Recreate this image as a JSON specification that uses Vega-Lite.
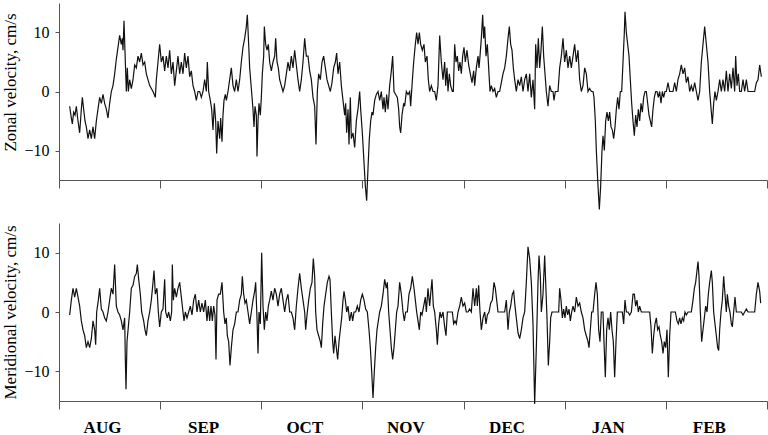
{
"$schema": "https://vega.github.io/schema/vega-lite/v6.json",
"background": "white",
"padding": {"left": 0, "top": 3, "right": 2, "bottom": 0},
"spacing": 43,
"bounds": "flush",
"config": {
  "view": {"stroke": null},
  "font": "Liberation Serif",
  "axis": {"domainColor": "#555", "tickColor": "#555", "labelFont": "Liberation Serif", "labelFontSize": 16, "labelColor": "#000", "titleFont": "Liberation Serif", "titleFontSize": 17, "titleFontWeight": "normal", "titleColor": "#000", "grid": false, "domainWidth": 1, "tickWidth": 1}
},
"datasets": {
"zonal": [
{"d":4.0,"v":-2.5},{"d":4.5,"v":-4.5},{"d":4.8,"v":-5.5},{"d":5.2,"v":-3.5},{"d":5.6,"v":-4},{"d":6.0,"v":-2.5},{"d":6.5,"v":-5},{"d":7.0,"v":-7},{"d":7.5,"v":-3},{"d":7.8,"v":-1},{"d":8.2,"v":-3},{"d":8.6,"v":-5},{"d":9.0,"v":-6},{"d":9.5,"v":-8},{"d":10.0,"v":-6.5},{"d":10.5,"v":-8},{"d":11.0,"v":-6},{"d":11.5,"v":-8},{"d":12.0,"v":-5},{"d":12.5,"v":-3},{"d":13.0,"v":-1},{"d":13.5,"v":-2},{"d":14.0,"v":-0.5},{"d":14.5,"v":-2},{"d":15.0,"v":-3},{"d":15.5,"v":-4.5},{"d":16.0,"v":-2},{"d":16.5,"v":0},{"d":17.0,"v":1},{"d":17.5,"v":3},{"d":18.0,"v":5.5},{"d":18.5,"v":7.5},{"d":19.0,"v":9.5},{"d":19.5,"v":8},{"d":19.8,"v":9},{"d":20.0,"v":7},{"d":20.3,"v":12},{"d":20.7,"v":5},{"d":21.0,"v":0},{"d":21.3,"v":4},{"d":21.6,"v":0},{"d":22.0,"v":2},{"d":22.5,"v":0.5},{"d":23.0,"v":2},{"d":23.5,"v":4.5},{"d":24.0,"v":4},{"d":24.5,"v":6},{"d":25.0,"v":5},{"d":25.5,"v":6.5},{"d":26.0,"v":4.5},{"d":26.5,"v":5},{"d":27.0,"v":3},{"d":28.0,"v":1},{"d":29.0,"v":0},{"d":29.7,"v":-1},{"d":30.0,"v":2},{"d":30.5,"v":5},{"d":31.0,"v":8},{"d":31.5,"v":5},{"d":32.0,"v":6},{"d":32.5,"v":3.5},{"d":33.0,"v":6},{"d":33.5,"v":4},{"d":34.0,"v":7},{"d":34.5,"v":3},{"d":35.0,"v":5},{"d":35.5,"v":1},{"d":36.0,"v":3.5},{"d":36.5,"v":6},{"d":37.0,"v":3},{"d":37.5,"v":5},{"d":38.0,"v":3},{"d":38.5,"v":6.5},{"d":39.0,"v":4},{"d":39.5,"v":6},{"d":40.0,"v":2.5},{"d":40.5,"v":3.5},{"d":41.0,"v":1},{"d":41.5,"v":0},{"d":42.0,"v":-1.5},{"d":42.5,"v":0},{"d":43.0,"v":0},{"d":43.5,"v":-1},{"d":44.0,"v":0},{"d":44.5,"v":2},{"d":45.0,"v":0},{"d":45.3,"v":5},{"d":45.7,"v":0},{"d":46.2,"v":-1.5},{"d":46.6,"v":-3},{"d":47.0,"v":-6.5},{"d":47.4,"v":-2},{"d":47.8,"v":-5},{"d":48.1,"v":-10.5},{"d":48.5,"v":-5},{"d":49.0,"v":-8},{"d":49.3,"v":-4.5},{"d":49.7,"v":-8.5},{"d":50.0,"v":-4},{"d":50.3,"v":-1.5},{"d":50.7,"v":-0.5},{"d":51.0,"v":-1.5},{"d":51.5,"v":0},{"d":52.0,"v":2},{"d":52.5,"v":4},{"d":53.0,"v":1},{"d":53.5,"v":0},{"d":54.0,"v":2},{"d":54.5,"v":0},{"d":55.0,"v":2},{"d":55.5,"v":5},{"d":56.0,"v":7.5},{"d":56.5,"v":9},{"d":57.0,"v":11},{"d":57.3,"v":13},{"d":57.7,"v":8},{"d":58.0,"v":4},{"d":58.5,"v":0.5},{"d":59.0,"v":-3},{"d":59.3,"v":-6},{"d":59.6,"v":-2.5},{"d":60.0,"v":-4},{"d":60.2,"v":-11},{"d":60.5,"v":-5},{"d":60.8,"v":-2},{"d":61.2,"v":-4},{"d":61.5,"v":-1},{"d":61.8,"v":3},{"d":62.2,"v":6},{"d":62.4,"v":11},{"d":62.8,"v":8},{"d":63.2,"v":7},{"d":63.6,"v":8},{"d":64.0,"v":5},{"d":64.5,"v":3.5},{"d":65.0,"v":5},{"d":65.5,"v":6},{"d":65.8,"v":9},{"d":66.2,"v":5},{"d":66.6,"v":4},{"d":67.0,"v":2},{"d":67.5,"v":1},{"d":68.0,"v":0},{"d":68.5,"v":1},{"d":69.0,"v":3},{"d":69.5,"v":5},{"d":70.0,"v":3.5},
{"d":70.5,"v":6},{"d":71.0,"v":4},{"d":71.5,"v":7},{"d":72.0,"v":4.5},{"d":72.5,"v":2},{"d":73.0,"v":0},{"d":73.5,"v":2},{"d":74.0,"v":5},{"d":74.5,"v":9},{"d":75.0,"v":6},{"d":75.5,"v":6},{"d":76.0,"v":3.5},{"d":76.5,"v":2},{"d":77.0,"v":-1},{"d":77.5,"v":-2.5},{"d":77.9,"v":-9},{"d":78.3,"v":0},{"d":78.7,"v":3},{"d":79.2,"v":2},{"d":79.7,"v":5},{"d":80.2,"v":6},{"d":80.7,"v":4},{"d":81.2,"v":2},{"d":81.7,"v":1},{"d":82.2,"v":0},{"d":82.7,"v":1.5},{"d":83.2,"v":4},{"d":83.7,"v":5},{"d":84.1,"v":6.5},{"d":84.5,"v":3},{"d":85.0,"v":5},{"d":85.5,"v":1},{"d":86.0,"v":-1.5},{"d":86.5,"v":-4},{"d":86.8,"v":-2},{"d":87.1,"v":-7},{"d":87.5,"v":-3},{"d":87.8,"v":-9},{"d":88.2,"v":-1},{"d":88.5,"v":-8},{"d":89.0,"v":-7},{"d":89.5,"v":-9.5},{"d":90.0,"v":-5},{"d":90.5,"v":-3},{"d":91.0,"v":0},{"d":91.3,"v":-3},{"d":91.8,"v":-7},{"d":92.3,"v":-12},{"d":92.7,"v":-16},{"d":93.1,"v":-18.5},{"d":93.5,"v":-13},{"d":93.9,"v":-8},{"d":94.3,"v":-5},{"d":94.7,"v":-3.5},{"d":95.0,"v":-4},{"d":95.5,"v":-1.5},{"d":96.0,"v":-0.5},{"d":96.5,"v":0},{"d":97.0,"v":-1.5},{"d":97.5,"v":0},{"d":98.0,"v":-3},{"d":98.3,"v":-1},{"d":98.7,"v":-3.5},{"d":99.1,"v":-0.5},{"d":99.5,"v":-3},{"d":100.0,"v":1},{"d":100.5,"v":3.5},{"d":100.9,"v":6},{"d":101.3,"v":0},{"d":101.8,"v":-0.5},{"d":102.3,"v":-1},{"d":102.7,"v":-3},{"d":103.0,"v":-6},{"d":103.3,"v":-7},{"d":103.7,"v":-4},{"d":104.2,"v":-2},{"d":104.5,"v":-2.5},{"d":105.0,"v":0},{"d":105.5,"v":-0.5},{"d":106.0,"v":0},{"d":106.3,"v":-2.5},{"d":106.7,"v":1},{"d":107.2,"v":5},{"d":107.7,"v":8},{"d":108.1,"v":10},{"d":108.5,"v":8},{"d":108.9,"v":10},{"d":109.3,"v":8},{"d":109.8,"v":7},{"d":110.3,"v":8},{"d":110.7,"v":5},{"d":111.2,"v":6},{"d":111.6,"v":2},{"d":112.0,"v":0},{"d":112.5,"v":1},{"d":113.0,"v":0},{"d":113.5,"v":0},{"d":114.0,"v":-1.5},{"d":114.5,"v":1},{"d":115.0,"v":9.5},{"d":115.5,"v":5},{"d":116.0,"v":2},{"d":116.5,"v":5},{"d":116.8,"v":1},{"d":117.2,"v":4},{"d":117.5,"v":0},{"d":117.9,"v":3},{"d":118.3,"v":1},{"d":118.8,"v":0},{"d":119.1,"v":0},{"d":119.5,"v":8},{"d":119.9,"v":5},{"d":120.3,"v":6},{"d":120.7,"v":3.5},{"d":121.1,"v":5},{"d":121.5,"v":3},{"d":121.9,"v":6},{"d":122.3,"v":7.5},{"d":122.7,"v":5},{"d":123.2,"v":7},{"d":123.7,"v":4.5},{"d":124.2,"v":3},{"d":124.7,"v":1.5},{"d":125.2,"v":3.5},{"d":125.5,"v":1},{"d":126.0,"v":4},{"d":126.5,"v":6},{"d":126.8,"v":4},{"d":127.1,"v":6},{"d":127.5,"v":9},{"d":127.9,"v":13},{"d":128.2,"v":9},{"d":128.5,"v":11},{"d":128.9,"v":6},{"d":129.3,"v":8},{"d":129.7,"v":4},{"d":130.1,"v":0},{"d":130.5,"v":1},{"d":131.0,"v":0},{"d":131.5,"v":0.5},{"d":132.0,"v":-1},{"d":132.5,"v":0},{"d":133.0,"v":0},{"d":133.5,"v":1.5},{"d":134.0,"v":3},{"d":134.5,"v":4},{"d":135.0,"v":6},{"d":135.5,"v":9},{"d":135.9,"v":11},{"d":136.3,"v":8},{"d":136.7,"v":7},{"d":137.1,"v":4},{"d":137.5,"v":2},{"d":138.0,"v":0},{"d":138.5,"v":2},{"d":139.0,"v":1},{"d":139.5,"v":2.5},{"d":140.0,"v":0},{"d":140.5,"v":2},
{"d":141.0,"v":3},{"d":141.5,"v":0},{"d":142.0,"v":3},{"d":142.5,"v":-1},{"d":143.0,"v":2},{"d":143.5,"v":-3},{"d":143.8,"v":8},{"d":144.2,"v":4},{"d":144.6,"v":9},{"d":145.0,"v":4},{"d":145.4,"v":7},{"d":145.8,"v":11},{"d":146.2,"v":6},{"d":146.6,"v":3},{"d":147.0,"v":0},{"d":147.5,"v":-2.5},{"d":148.0,"v":1},{"d":148.5,"v":0},{"d":149.0,"v":0},{"d":149.3,"v":-1.5},{"d":149.7,"v":0},{"d":150.2,"v":0},{"d":150.5,"v":0},{"d":151.0,"v":4},{"d":151.5,"v":6},{"d":152.0,"v":9},{"d":152.5,"v":5},{"d":153.0,"v":7},{"d":153.5,"v":4},{"d":154.0,"v":6},{"d":154.5,"v":4},{"d":155.0,"v":6},{"d":155.5,"v":8},{"d":156.0,"v":5},{"d":156.5,"v":7},{"d":157.0,"v":2},{"d":157.5,"v":0},{"d":158.0,"v":1},{"d":158.5,"v":4},{"d":159.0,"v":3},{"d":159.5,"v":0},{"d":160.0,"v":0.5},{"d":160.5,"v":0},{"d":161.0,"v":0},{"d":161.3,"v":-1},{"d":161.7,"v":-5},{"d":162.0,"v":-10},{"d":162.5,"v":-16},{"d":162.9,"v":-20},{"d":163.3,"v":-16},{"d":163.7,"v":-10},{"d":164.0,"v":-7.5},{"d":164.4,"v":-10},{"d":164.8,"v":-5},{"d":165.2,"v":-3.5},{"d":165.6,"v":-5},{"d":166.0,"v":-3.5},{"d":166.4,"v":-6},{"d":166.8,"v":-6.5},{"d":167.2,"v":-8},{"d":167.6,"v":-6},{"d":168.0,"v":-3},{"d":168.4,"v":-1},{"d":168.8,"v":-3},{"d":169.2,"v":0},{"d":169.6,"v":0},{"d":170.0,"v":5},{"d":170.4,"v":10},{"d":170.6,"v":13.5},{"d":171.0,"v":10},{"d":171.4,"v":8},{"d":171.8,"v":6},{"d":172.2,"v":2},{"d":172.6,"v":-2},{"d":173.0,"v":-5},{"d":173.4,"v":-7.5},{"d":173.8,"v":-4},{"d":174.2,"v":-6},{"d":174.6,"v":-3},{"d":175.0,"v":-5},{"d":175.4,"v":-2},{"d":175.8,"v":-3.5},{"d":176.2,"v":-1},{"d":176.6,"v":0},{"d":177.0,"v":0},{"d":177.4,"v":-2},{"d":177.8,"v":-4},{"d":178.2,"v":-5},{"d":178.6,"v":-6},{"d":179.0,"v":-3},{"d":179.4,"v":-1},{"d":179.8,"v":0},{"d":180.2,"v":0},{"d":180.6,"v":-1},{"d":181.0,"v":0},{"d":181.4,"v":-2},{"d":181.8,"v":0},{"d":182.2,"v":-1},{"d":182.6,"v":0},{"d":183.0,"v":0},{"d":183.5,"v":1.5},{"d":184.0,"v":0},{"d":184.5,"v":0},{"d":185.0,"v":0},{"d":185.5,"v":1.5},{"d":186.0,"v":0},{"d":186.5,"v":2},{"d":187.0,"v":3},{"d":187.5,"v":4.5},{"d":188.0,"v":3},{"d":188.5,"v":4},{"d":189.0,"v":1.5},{"d":189.5,"v":2.5},{"d":190.0,"v":0},{"d":190.5,"v":1},{"d":191.0,"v":0},{"d":191.5,"v":1.5},{"d":192.0,"v":0},{"d":192.5,"v":-1.5},{"d":193.0,"v":0},{"d":193.5,"v":5},{"d":194.0,"v":8},{"d":194.5,"v":11},{"d":195.0,"v":8},{"d":195.5,"v":5},{"d":196.0,"v":0},{"d":196.5,"v":-3.5},{"d":196.8,"v":-5.5},{"d":197.2,"v":-2},{"d":197.6,"v":0},{"d":198.0,"v":-1.5},{"d":198.5,"v":0},{"d":199.0,"v":2},{"d":199.5,"v":0},{"d":200.0,"v":2},{"d":200.5,"v":0},{"d":201.0,"v":3.5},{"d":201.5,"v":0},{"d":202.0,"v":3},{"d":202.5,"v":0.5},{"d":203.0,"v":4},{"d":203.5,"v":0},{"d":203.8,"v":6},{"d":204.2,"v":1},{"d":204.6,"v":3},{"d":205.0,"v":0},{"d":205.5,"v":0},{"d":206.0,"v":2},{"d":206.5,"v":0},{"d":207.0,"v":2},{"d":207.5,"v":0},{"d":208.0,"v":0},{"d":209.0,"v":0},{"d":209.5,"v":0},{"d":210.0,"v":1.5},{"d":210.5,"v":2},{"d":211.0,"v":4.5},{"d":211.5,"v":2.5}
],
"merid": [
{"d":4.0,"v":-0.5},{"d":4.5,"v":2},{"d":5.0,"v":4},{"d":5.5,"v":2.5},{"d":6.0,"v":4},{"d":6.5,"v":2.5},{"d":7.0,"v":1},{"d":7.5,"v":-1.5},{"d":8.0,"v":-3},{"d":8.5,"v":-4},{"d":9.0,"v":-6},{"d":9.5,"v":-5},{"d":10.0,"v":-6},{"d":10.5,"v":-4.5},{"d":11.0,"v":-1.5},{"d":11.5,"v":-3},{"d":11.8,"v":-5.5},{"d":12.1,"v":0},{"d":12.6,"v":2},{"d":13.0,"v":4},{"d":13.5,"v":0.5},{"d":14.0,"v":0},{"d":14.5,"v":-1},{"d":15.0,"v":-1.5},{"d":15.5,"v":0},{"d":16.0,"v":2},{"d":16.5,"v":4},{"d":17.0,"v":3},{"d":17.5,"v":8},{"d":18.0,"v":1},{"d":18.5,"v":0},{"d":19.0,"v":-0.5},{"d":19.5,"v":-1.5},{"d":20.0,"v":-3},{"d":20.5,"v":-1},{"d":20.7,"v":-8},{"d":20.9,"v":-13},{"d":21.2,"v":-5},{"d":21.6,"v":-2.5},{"d":22.0,"v":0},{"d":22.5,"v":4},{"d":23.0,"v":4.5},{"d":23.5,"v":6},{"d":24.0,"v":6.5},{"d":24.3,"v":8},{"d":24.8,"v":5},{"d":25.2,"v":3},{"d":25.6,"v":0},{"d":26.2,"v":-1.5},{"d":26.6,"v":-3},{"d":27.0,"v":-4},{"d":27.5,"v":-1.5},{"d":28.0,"v":0},{"d":28.5,"v":2},{"d":29.0,"v":5},{"d":29.3,"v":7},{"d":29.7,"v":3},{"d":30.2,"v":4},{"d":30.6,"v":0},{"d":31.0,"v":-2.5},{"d":31.5,"v":0},{"d":32.0,"v":0.5},{"d":32.5,"v":5.5},{"d":32.8,"v":0},{"d":33.3,"v":-1},{"d":33.7,"v":0},{"d":34.2,"v":-1.5},{"d":34.6,"v":0},{"d":34.8,"v":8},{"d":35.1,"v":2},{"d":35.5,"v":4},{"d":36.0,"v":2.5},{"d":36.5,"v":4},{"d":37.0,"v":5},{"d":37.5,"v":2.5},{"d":38.0,"v":0},{"d":38.3,"v":-1.5},{"d":38.7,"v":0},{"d":39.2,"v":-1},{"d":39.7,"v":0},{"d":40.2,"v":1},{"d":40.7,"v":-0.5},{"d":41.2,"v":2},{"d":41.7,"v":3},{"d":42.2,"v":0},{"d":42.7,"v":2},{"d":43.2,"v":0},{"d":43.7,"v":1.5},{"d":44.2,"v":0},{"d":44.7,"v":2},{"d":45.2,"v":-1.5},{"d":45.6,"v":1},{"d":46.0,"v":-1.5},{"d":46.4,"v":1},{"d":46.8,"v":-1.5},{"d":47.2,"v":1},{"d":47.6,"v":-0.5},{"d":47.9,"v":-8},{"d":48.2,"v":2},{"d":48.7,"v":3},{"d":49.2,"v":3},{"d":49.7,"v":5},{"d":50.2,"v":0},{"d":50.6,"v":-2},{"d":51.0,"v":-1},{"d":51.3,"v":-4},{"d":51.7,"v":-5},{"d":52.1,"v":-9},{"d":52.5,"v":-6},{"d":53.0,"v":-3},{"d":53.5,"v":-2},{"d":54.0,"v":0},{"d":54.5,"v":0},{"d":55.0,"v":2},{"d":55.5,"v":3},{"d":55.8,"v":6},{"d":56.2,"v":3},{"d":56.6,"v":1.5},{"d":57.0,"v":2},{"d":57.5,"v":0},{"d":58.0,"v":-2},{"d":58.5,"v":0},{"d":59.0,"v":2},{"d":59.5,"v":3.5},{"d":59.8,"v":5},{"d":60.2,"v":-1},{"d":60.5,"v":-7},{"d":60.8,"v":0},{"d":61.2,"v":-2},{"d":61.6,"v":10},{"d":62.0,"v":1},{"d":62.4,"v":-3},{"d":62.8,"v":0},{"d":63.2,"v":-1.5},{"d":63.6,"v":1},{"d":64.0,"v":2},{"d":64.5,"v":3.5},{"d":65.0,"v":2},{"d":65.5,"v":4},{"d":66.0,"v":3},{"d":66.5,"v":1},{"d":67.0,"v":3},{"d":67.5,"v":4},{"d":68.0,"v":2},{"d":68.5,"v":0},{"d":69.0,"v":2},{"d":69.5,"v":3},{"d":70.0,"v":0},
{"d":70.5,"v":0},{"d":71.0,"v":-1},{"d":71.5,"v":-3},{"d":72.0,"v":1},{"d":72.5,"v":4},{"d":73.0,"v":6.5},{"d":73.5,"v":4},{"d":74.0,"v":2},{"d":74.5,"v":0},{"d":74.8,"v":-3},{"d":75.2,"v":-0.5},{"d":75.7,"v":2},{"d":76.2,"v":4},{"d":76.7,"v":5},{"d":77.1,"v":9},{"d":77.5,"v":6},{"d":77.8,"v":0},{"d":78.2,"v":-3},{"d":78.7,"v":-4},{"d":79.2,"v":-5},{"d":79.5,"v":-6},{"d":79.9,"v":-2},{"d":80.3,"v":1},{"d":80.8,"v":3},{"d":81.3,"v":5},{"d":81.8,"v":6},{"d":82.1,"v":5.5},{"d":82.5,"v":0},{"d":82.9,"v":-5},{"d":83.2,"v":-7},{"d":83.6,"v":-4},{"d":84.0,"v":-6},{"d":84.4,"v":-8},{"d":84.8,"v":-5},{"d":85.2,"v":-3},{"d":85.6,"v":-1},{"d":86.0,"v":2},{"d":86.3,"v":3.5},{"d":86.7,"v":2},{"d":87.1,"v":0},{"d":87.5,"v":1},{"d":88.0,"v":-1.5},{"d":88.5,"v":0},{"d":88.9,"v":-1.5},{"d":89.3,"v":0},{"d":89.8,"v":0},{"d":90.3,"v":1},{"d":90.8,"v":0},{"d":91.3,"v":2},{"d":91.8,"v":3},{"d":92.3,"v":2},{"d":92.8,"v":0.5},{"d":93.3,"v":0},{"d":93.8,"v":-3},{"d":94.2,"v":-6},{"d":94.6,"v":-10},{"d":95.0,"v":-14.5},{"d":95.4,"v":-10},{"d":95.8,"v":-6},{"d":96.2,"v":-3},{"d":96.6,"v":-1.5},{"d":97.0,"v":0},{"d":97.5,"v":1},{"d":98.0,"v":3},{"d":98.5,"v":5.5},{"d":99.0,"v":4},{"d":99.3,"v":5},{"d":99.7,"v":0},{"d":100.1,"v":-3},{"d":100.5,"v":-6},{"d":100.9,"v":-8},{"d":101.3,"v":-6},{"d":101.7,"v":-3},{"d":102.1,"v":0},{"d":102.5,"v":1},{"d":103.0,"v":5},{"d":103.5,"v":3},{"d":104.0,"v":0},{"d":104.4,"v":-1.5},{"d":104.8,"v":0},{"d":105.3,"v":0},{"d":105.8,"v":3},{"d":106.3,"v":4},{"d":106.8,"v":6},{"d":107.3,"v":4},{"d":107.7,"v":2},{"d":108.1,"v":0},{"d":108.5,"v":-1.5},{"d":108.9,"v":-3},{"d":109.3,"v":0},{"d":109.7,"v":-0.5},{"d":110.2,"v":1},{"d":110.7,"v":2.5},{"d":111.0,"v":0},{"d":111.5,"v":4},{"d":112.0,"v":1},{"d":112.3,"v":3},{"d":112.7,"v":5.5},{"d":113.1,"v":1},{"d":113.5,"v":0},{"d":114.0,"v":-3},{"d":114.3,"v":-5.5},{"d":114.7,"v":-2},{"d":115.1,"v":0},{"d":115.5,"v":-1},{"d":116.0,"v":0},{"d":116.5,"v":-2.5},{"d":116.9,"v":-4},{"d":117.3,"v":0},{"d":117.8,"v":0},{"d":118.3,"v":0},{"d":118.8,"v":0},{"d":119.2,"v":-2},{"d":119.6,"v":-1.5},{"d":120.0,"v":-2},{"d":120.5,"v":0},{"d":121.0,"v":1},{"d":121.5,"v":2.5},{"d":122.0,"v":1},{"d":122.5,"v":1.5},{"d":123.0,"v":0},{"d":123.5,"v":0},{"d":124.0,"v":0.5},{"d":124.5,"v":0},{"d":125.0,"v":4},{"d":125.5,"v":1},{"d":126.0,"v":4},{"d":126.3,"v":1},{"d":126.7,"v":4.5},{"d":127.1,"v":0},{"d":127.5,"v":-3},{"d":128.0,"v":-1},{"d":128.5,"v":0},{"d":128.9,"v":-2},{"d":129.3,"v":-0.5},{"d":129.8,"v":0},{"d":130.3,"v":1.5},{"d":130.8,"v":2},{"d":131.3,"v":5},{"d":131.7,"v":4},{"d":132.1,"v":2},{"d":132.5,"v":0},{"d":133.0,"v":0},{"d":133.5,"v":0},{"d":134.0,"v":0},{"d":134.5,"v":0},{"d":135.0,"v":2},{"d":135.5,"v":-3},{"d":135.9,"v":0},{"d":136.3,"v":1},{"d":136.8,"v":3},{"d":137.2,"v":3.5},{"d":137.6,"v":1},{"d":138.0,"v":-1},{"d":138.5,"v":-3.5},{"d":139.0,"v":-4.5},{"d":139.5,"v":-3},{"d":140.0,"v":-1},{"d":140.5,"v":0},
{"d":141.0,"v":5},{"d":141.5,"v":11},{"d":142.0,"v":9},{"d":142.5,"v":5},{"d":143.0,"v":-2},{"d":143.5,"v":-15.5},{"d":144.0,"v":-6},{"d":144.5,"v":5},{"d":144.8,"v":9.5},{"d":145.2,"v":6},{"d":145.5,"v":0},{"d":146.0,"v":3},{"d":146.5,"v":9.5},{"d":146.8,"v":5},{"d":147.2,"v":-1},{"d":147.6,"v":-9},{"d":148.0,"v":-5},{"d":148.3,"v":-1},{"d":148.7,"v":0},{"d":149.2,"v":0},{"d":149.7,"v":0},{"d":150.2,"v":0},{"d":150.7,"v":0},{"d":151.0,"v":4},{"d":151.4,"v":2},{"d":151.8,"v":-1},{"d":152.2,"v":0.5},{"d":152.6,"v":-1},{"d":153.0,"v":1},{"d":153.4,"v":-0.5},{"d":153.8,"v":0.5},{"d":154.2,"v":-1.5},{"d":154.6,"v":0},{"d":155.0,"v":1},{"d":155.5,"v":0},{"d":156.0,"v":2.5},{"d":156.5,"v":1},{"d":157.0,"v":1.5},{"d":157.5,"v":0},{"d":158.0,"v":-1},{"d":158.5,"v":-3},{"d":159.0,"v":-4},{"d":159.5,"v":-5},{"d":159.8,"v":-6},{"d":160.2,"v":-3},{"d":160.6,"v":0},{"d":161.0,"v":0},{"d":161.5,"v":3},{"d":161.9,"v":5},{"d":162.3,"v":3},{"d":162.7,"v":-3},{"d":163.1,"v":-5},{"d":163.5,"v":0},{"d":164.0,"v":0},{"d":164.3,"v":-5},{"d":164.7,"v":-11},{"d":165.1,"v":-3},{"d":165.5,"v":-1},{"d":165.9,"v":-3},{"d":166.3,"v":0},{"d":166.7,"v":-3},{"d":167.1,"v":-5},{"d":167.5,"v":-11},{"d":167.9,"v":-5},{"d":168.3,"v":0},{"d":168.8,"v":0},{"d":169.3,"v":0},{"d":169.8,"v":0},{"d":170.2,"v":-2},{"d":170.6,"v":2},{"d":171.0,"v":0},{"d":171.5,"v":0},{"d":172.0,"v":-0.5},{"d":172.5,"v":0},{"d":173.0,"v":3},{"d":173.4,"v":3},{"d":173.8,"v":1},{"d":174.2,"v":2},{"d":174.6,"v":0},{"d":175.0,"v":1},{"d":175.5,"v":0},{"d":176.0,"v":0},{"d":176.5,"v":0},{"d":177.0,"v":0},{"d":177.5,"v":0},{"d":178.0,"v":0},{"d":178.4,"v":-2.5},{"d":178.8,"v":-7},{"d":179.2,"v":-4},{"d":179.6,"v":-2},{"d":180.0,"v":-1},{"d":180.4,"v":-3},{"d":180.8,"v":-2.5},{"d":181.2,"v":-4},{"d":181.6,"v":-5},{"d":182.0,"v":-7},{"d":182.4,"v":-5},{"d":182.8,"v":-6},{"d":183.2,"v":-3},{"d":183.6,"v":-11},{"d":184.0,"v":-4},{"d":184.4,"v":0},{"d":184.8,"v":0},{"d":185.3,"v":0},{"d":185.7,"v":0},{"d":186.2,"v":-1.5},{"d":186.6,"v":-2},{"d":187.0,"v":-1},{"d":187.4,"v":-2},{"d":187.8,"v":-1},{"d":188.2,"v":-1.5},{"d":188.6,"v":0},{"d":189.0,"v":-0.5},{"d":189.5,"v":0},{"d":190.0,"v":0},{"d":190.5,"v":0},{"d":191.0,"v":2},{"d":191.4,"v":4},{"d":191.8,"v":5},{"d":192.2,"v":7},{"d":192.5,"v":8.5},{"d":192.8,"v":6},{"d":193.2,"v":0},{"d":193.6,"v":-5},{"d":194.0,"v":-3},{"d":194.4,"v":-1},{"d":194.8,"v":1},{"d":195.2,"v":0},{"d":195.6,"v":3},{"d":196.0,"v":5},{"d":196.5,"v":7},{"d":196.8,"v":5},{"d":197.2,"v":0},{"d":197.6,"v":-2},{"d":198.0,"v":-4},{"d":198.4,"v":-6},{"d":198.7,"v":-6.5},{"d":199.0,"v":-3},{"d":199.4,"v":0},{"d":199.8,"v":2},{"d":200.2,"v":6},{"d":200.6,"v":3},{"d":201.0,"v":0},{"d":201.3,"v":3},{"d":201.7,"v":1},{"d":202.1,"v":0},{"d":202.5,"v":-2},{"d":202.8,"v":-2.5},{"d":203.2,"v":0},{"d":203.6,"v":2.5},{"d":204.0,"v":0},{"d":204.5,"v":0},{"d":205.0,"v":0},{"d":205.5,"v":0},{"d":206.0,"v":-0.5},{"d":206.5,"v":0},{"d":207.0,"v":0.5},{"d":207.5,"v":0},{"d":208.0,"v":0},{"d":208.5,"v":0},{"d":209.0,"v":0},{"d":209.5,"v":0},{"d":210.0,"v":3},{"d":210.5,"v":5},{"d":211.0,"v":3.5},{"d":211.3,"v":1.5}
]
},
"vconcat": [
{
  "data": {"name": "zonal"},
  "width": 708, "height": 177,
  "mark": {"type": "line", "color": "#111", "strokeWidth": 1.2},
  "encoding": {
    "x": {"field": "d", "type": "quantitative", "scale": {"domain": [0.8, 213.2], "nice": false, "zero": false},
          "axis": {"values": [0.8, 31.14, 61.49, 91.83, 122.17, 152.51, 182.86, 213.2], "labels": false, "tickSize": 8, "title": null}},
    "y": {"field": "v", "type": "quantitative", "scale": {"domain": [-15, 15], "nice": false},
          "axis": {"values": [-10, 0, 10], "tickSize": 4, "labelPadding": 6, "title": "Zonal velocity, cm/s", "titleX": -44, "titleY": 79, "titleBaseline": "alphabetic", "titleAngle": -90}}
  }
},
{
  "data": {"name": "merid"},
  "width": 708, "height": 178,
  "mark": {"type": "line", "color": "#111", "strokeWidth": 1.2},
  "encoding": {
    "x": {"field": "d", "type": "quantitative", "scale": {"domain": [0.8, 213.2], "nice": false, "zero": false},
          "axis": {"values": [0.8, 31.14, 61.49, 91.83, 122.17, 152.51, 182.86, 213.2], "tickSize": 8, "title": null,
                   "labelExpr": "['AUG','SEP','OCT','NOV','DEC','JAN','FEB',''][round((datum.value-0.8)/30.343)]",
                   "labelFontWeight": "bold", "labelFontSize": 17, "labelOffset": 43, "labelPadding": 23, "labelBaseline": "alphabetic", "labelOverlap": false, "labelFlush": false, "labelBound": false}},
    "y": {"field": "v", "type": "quantitative", "scale": {"domain": [-15, 15], "nice": false},
          "axis": {"values": [-10, 0, 10], "tickSize": 4, "labelPadding": 6, "title": "Meridional velocity, cm/s", "titleX": -44, "titleBaseline": "alphabetic", "titleAngle": -90}}
  }
}
]
}
